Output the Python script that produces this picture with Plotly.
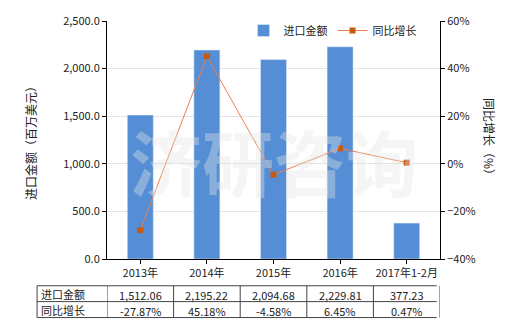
import plotly.graph_objects as go

categories = ["2013年", "2014年", "2015年", "2016年", "2017年1-2月"]
import_values = [1512.06, 2195.22, 2094.68, 2229.81, 377.23]
growth_values = [-27.87, 45.18, -4.58, 6.45, 0.47]
import_labels = ["1,512.06", "2,195.22", "2,094.68", "2,229.81", "377.23"]
growth_labels = ["-27.87%", "45.18%", "-4.58%", "6.45%", "0.47%"]
row_names = ["进口金额", "同比增长"]

FONT = "Noto Sans CJK SC"
xs = list(range(len(categories)))

fig = go.Figure()
fig.add_trace(go.Bar(x=xs, y=import_values, name="进口金额", marker_color="#558ED5",
                     width=0.39, yaxis="y"))
fig.add_trace(go.Scatter(x=xs, y=growth_values, name="同比增长", mode="lines+markers",
                         line=dict(color="#E8804F", width=1),
                         marker=dict(symbol="square", size=6, color="#C55A11"),
                         yaxis="y2"))

# watermark
fig.add_annotation(text="<b>济研咨询</b>", x=0.5, y=0.42, xref="paper", yref="paper",
                   showarrow=False, font=dict(family=FONT, size=72, color="rgba(228,228,228,0.38)"))

# axis titles
fig.add_annotation(text="进口金额（百万美元）", x=-0.231, y=0.5, xref="paper", yref="paper",
                   textangle=-90, showarrow=False, xanchor="center", yanchor="middle",
                   font=dict(family=FONT, size=12, color="#222"))
fig.add_annotation(text="同比增长（%）", x=1.15, y=0.5, xref="paper", yref="paper",
                   textangle=90, showarrow=False, xanchor="center", yanchor="middle",
                   font=dict(family=FONT, size=12, color="#222"))

shapes = []
annotations = []
top, mid, bot = -0.1125, -0.179, -0.246
left_px = -0.21
lc = "#444444"
for yy in (top, mid, bot):
    shapes.append(dict(type="line", xref="paper", yref="paper", x0=left_px, x1=0.99, y0=yy, y1=yy,
                       line=dict(color=lc, width=1)))
shapes.append(dict(type="line", xref="paper", yref="paper", x0=left_px, x1=left_px, y0=top, y1=bot,
                   line=dict(color=lc, width=1)))
for i in range(len(categories) + 1):
    shapes.append(dict(type="line", xref="x", yref="paper", x0=i - 0.5, x1=i - 0.5, y0=top, y1=bot,
                       line=dict(color=lc, width=1)))
for r, name in enumerate(row_names):
    yc = (top + mid) / 2 if r == 0 else (mid + bot) / 2
    annotations.append(dict(text=name, xref="paper", yref="paper", x=left_px + 0.005, y=yc,
                            xanchor="left", yanchor="middle", showarrow=False,
                            font=dict(family=FONT, size=11, color="#222")))
    labels = import_labels if r == 0 else growth_labels
    for i, t in enumerate(labels):
        annotations.append(dict(text=t, xref="x", yref="paper", x=i, y=yc - 0.005,
                                xanchor="center", yanchor="middle", showarrow=False,
                                font=dict(family=FONT, size=11, color="#222")))
for a in annotations:
    fig.add_annotation(**a)

fig.update_layout(
    width=520, height=330,
    margin=dict(l=107, r=80, t=19, b=71),
    paper_bgcolor="white", plot_bgcolor="white",
    font=dict(family=FONT, size=11, color="#222"),
    shapes=shapes,
    showlegend=True,
    legend=dict(orientation="h", x=0.41, y=0.96, xanchor="left", yanchor="middle",
                bgcolor="rgba(0,0,0,0)", font=dict(size=11), itemwidth=30),
    bargap=0.6,
    xaxis=dict(range=[-0.5, 4.5], tickmode="array", tickvals=xs, ticktext=categories,
               showline=True, linecolor="#000", linewidth=1, ticks="outside", ticklen=4,
               tickcolor="#000", showgrid=False, zeroline=False, fixedrange=True),
    yaxis=dict(range=[0, 2500], dtick=500, tickformat=",.1f", showline=True, linecolor="#000",
               linewidth=1, ticks="outside", ticklen=4, tickcolor="#000",
               gridcolor="#E3E3E3", zeroline=False),
    yaxis2=dict(range=[-40, 60], dtick=20, ticksuffix="%", overlaying="y", side="right",
                showline=True, linecolor="#000", linewidth=1, ticks="outside", ticklen=4,
                tickcolor="#000", showgrid=False, zeroline=False),
)

fig.write_html("out.html")
